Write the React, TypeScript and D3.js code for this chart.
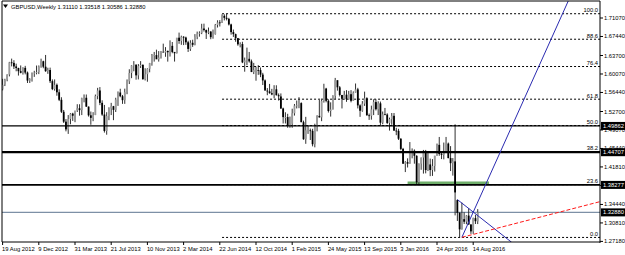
import React from "react";
import * as d3 from "d3";

// ---------- DATA ----------
const symbolTitle = "GBPUSD,Weekly";
const lastQuote = ["1.31110", "1.33518", "1.30586", "1.32880"];

// weekly candles [open, high, low, close], first week 19 Aug 2012, last week 28 Aug 2016
const ohlc: [number, number, number, number][] = [
  // 2012
  [1.5705, 1.5912, 1.5685, 1.5794], [1.5800, 1.5913, 1.5770, 1.5896], [1.5896, 1.6000, 1.5864, 1.5996],
  [1.5996, 1.6245, 1.5960, 1.6235], [1.6235, 1.6309, 1.6156, 1.6225], [1.6225, 1.6278, 1.6105, 1.6155],
  [1.6155, 1.6210, 1.6060, 1.6125], [1.6125, 1.6130, 1.5976, 1.6062], [1.6062, 1.6175, 1.6020, 1.6031],
  [1.6031, 1.6140, 1.5995, 1.6127], [1.6127, 1.6167, 1.6000, 1.6035], [1.6035, 1.6055, 1.5830, 1.5878],
  [1.5878, 1.5924, 1.5830, 1.5905], [1.5905, 1.6037, 1.5857, 1.6019], [1.6019, 1.6070, 1.5950, 1.6032],
  [1.6032, 1.6173, 1.6000, 1.6045], [1.6045, 1.6175, 1.6005, 1.6155], [1.6155, 1.6308, 1.6130, 1.6257],
  [1.6257, 1.6268, 1.6120, 1.6150], [1.6150, 1.6381, 1.6050, 1.6062],
  // 2013
  [1.6062, 1.6130, 1.6010, 1.6085], [1.6085, 1.6132, 1.5830, 1.5866], [1.5866, 1.5900, 1.5690, 1.5710],
  [1.5710, 1.5900, 1.5680, 1.5794], [1.5794, 1.5820, 1.5580, 1.5648], [1.5648, 1.5706, 1.5475, 1.5500],
  [1.5500, 1.5550, 1.5240, 1.5265], [1.5265, 1.5300, 1.5045, 1.5070], [1.5070, 1.5122, 1.4880, 1.4919],
  [1.4919, 1.5200, 1.4830, 1.5124], [1.5124, 1.5240, 1.5020, 1.5228], [1.5228, 1.5245, 1.5085, 1.5187],
  [1.5187, 1.5250, 1.5060, 1.5290], [1.5290, 1.5413, 1.5260, 1.5334], [1.5334, 1.5412, 1.5188, 1.5297],
  [1.5297, 1.5541, 1.5200, 1.5531], [1.5531, 1.5605, 1.5450, 1.5540], [1.5540, 1.5604, 1.5360, 1.5366],
  [1.5366, 1.5368, 1.5170, 1.5195], [1.5195, 1.5270, 1.5010, 1.5145], [1.5145, 1.5257, 1.5080, 1.5200],
  [1.5200, 1.5603, 1.5200, 1.5573], [1.5573, 1.5735, 1.5510, 1.5683], [1.5683, 1.5750, 1.5395, 1.5440],
  [1.5440, 1.5490, 1.5185, 1.5210], [1.5210, 1.5399, 1.4856, 1.4888], [1.4888, 1.5256, 1.4814, 1.5180],
  [1.5180, 1.5353, 1.5100, 1.5328], [1.5328, 1.5440, 1.5200, 1.5374], [1.5374, 1.5380, 1.5100, 1.5302],
  [1.5302, 1.5540, 1.5260, 1.5505], [1.5505, 1.5664, 1.5380, 1.5643], [1.5643, 1.5717, 1.5550, 1.5570],
  [1.5570, 1.5595, 1.5420, 1.5493], [1.5493, 1.5719, 1.5420, 1.5650], [1.5650, 1.5900, 1.5610, 1.5862],
  [1.5862, 1.6100, 1.5810, 1.6026], [1.6026, 1.6180, 1.5925, 1.6175], [1.6175, 1.6260, 1.6060, 1.6191],
  [1.6191, 1.6192, 1.5895, 1.5980], [1.5980, 1.6202, 1.5900, 1.6163], [1.6163, 1.6260, 1.6125, 1.6185],
  [1.6185, 1.6198, 1.5895, 1.5905], [1.5905, 1.6120, 1.5880, 1.6002], [1.6002, 1.6120, 1.5855, 1.6110],
  [1.6110, 1.6225, 1.6040, 1.6220], [1.6220, 1.6400, 1.6170, 1.6375], [1.6375, 1.6440, 1.6250, 1.6378],
  [1.6378, 1.6485, 1.6350, 1.6295], [1.6295, 1.6457, 1.6250, 1.6330], [1.6330, 1.6457, 1.6310, 1.6443],
  [1.6443, 1.6603, 1.6440, 1.6430],
  // 2014
  [1.6430, 1.6535, 1.6345, 1.6460], [1.6460, 1.6468, 1.6250, 1.6435], [1.6435, 1.6668, 1.6350, 1.6560],
  [1.6560, 1.6635, 1.6415, 1.6440], [1.6440, 1.6440, 1.6251, 1.6415], [1.6415, 1.6715, 1.6410, 1.6720],
  [1.6720, 1.6820, 1.6600, 1.6655], [1.6655, 1.6760, 1.6580, 1.6738], [1.6738, 1.6750, 1.6575, 1.6723],
  [1.6723, 1.6740, 1.6580, 1.6630], [1.6630, 1.6660, 1.6440, 1.6500], [1.6500, 1.6670, 1.6460, 1.6620],
  [1.6620, 1.6680, 1.6540, 1.6580], [1.6580, 1.6790, 1.6570, 1.6740], [1.6740, 1.6840, 1.6690, 1.6800],
  [1.6800, 1.6845, 1.6740, 1.6815], [1.6815, 1.6993, 1.6790, 1.6900], [1.6900, 1.6996, 1.6840, 1.6870],
  [1.6870, 1.6880, 1.6695, 1.6820], [1.6820, 1.6920, 1.6790, 1.6840], [1.6840, 1.6850, 1.6690, 1.6730],
  [1.6730, 1.6880, 1.6700, 1.6790], [1.6790, 1.6990, 1.6780, 1.6970], [1.6970, 1.7062, 1.6920, 1.7020],
  [1.7020, 1.7065, 1.6940, 1.7015], [1.7015, 1.7180, 1.7010, 1.7150], [1.7150, 1.7180, 1.7060, 1.7110],
  [1.7110, 1.7191, 1.7060, 1.7090], [1.7090, 1.7110, 1.6960, 1.6980], [1.6980, 1.6995, 1.6780, 1.6830],
  [1.6830, 1.6880, 1.6735, 1.6790], [1.6790, 1.6800, 1.6640, 1.6710], [1.6710, 1.6715, 1.6562, 1.6590],
  [1.6590, 1.6630, 1.6530, 1.6595], [1.6595, 1.6640, 1.6220, 1.6235], [1.6235, 1.6330, 1.6052, 1.6275],
  [1.6275, 1.6525, 1.6180, 1.6305], [1.6305, 1.6440, 1.6230, 1.6255], [1.6255, 1.6290, 1.6045, 1.6045],
  [1.6045, 1.6225, 1.6005, 1.6085], [1.6085, 1.6150, 1.5875, 1.6085], [1.6085, 1.6180, 1.5990, 1.6083],
  [1.6083, 1.6135, 1.5945, 1.5995], [1.5995, 1.6030, 1.5790, 1.5880], [1.5880, 1.5900, 1.5707, 1.5680],
  [1.5680, 1.5730, 1.5590, 1.5665], [1.5665, 1.5812, 1.5620, 1.5630], [1.5630, 1.5715, 1.5590, 1.5605],
  [1.5605, 1.5787, 1.5530, 1.5706], [1.5706, 1.5785, 1.5585, 1.5590], [1.5590, 1.5625, 1.5485, 1.5570],
  [1.5565, 1.5625, 1.5320, 1.5330],
  // 2015
  [1.5330, 1.5345, 1.5035, 1.5160], [1.5160, 1.5255, 1.5035, 1.5160], [1.5160, 1.5225, 1.4950, 1.4985],
  [1.4985, 1.5170, 1.4950, 1.5030], [1.5030, 1.5325, 1.4950, 1.5235], [1.5235, 1.5418, 1.5190, 1.5385],
  [1.5385, 1.5485, 1.5330, 1.5390], [1.5390, 1.5552, 1.5335, 1.5435], [1.5435, 1.5450, 1.5060, 1.5060],
  [1.5060, 1.5090, 1.4715, 1.4725], [1.4725, 1.5165, 1.4635, 1.4900], [1.4900, 1.4985, 1.4830, 1.4900],
  [1.4900, 1.4935, 1.4710, 1.4890], [1.4890, 1.4930, 1.4585, 1.4627], [1.4627, 1.5030, 1.4566, 1.4988],
  [1.4988, 1.5197, 1.4880, 1.5183], [1.5183, 1.5497, 1.5150, 1.5155], [1.5155, 1.5525, 1.5080, 1.5475],
  [1.5475, 1.5815, 1.5445, 1.5720], [1.5720, 1.5735, 1.5450, 1.5480], [1.5480, 1.5510, 1.5250, 1.5280],
  [1.5280, 1.5450, 1.5170, 1.5310], [1.5310, 1.5590, 1.5310, 1.5575], [1.5575, 1.5930, 1.5515, 1.5885],
  [1.5885, 1.5880, 1.5680, 1.5745], [1.5745, 1.5770, 1.5565, 1.5595], [1.5595, 1.5595, 1.5330, 1.5520],
  [1.5520, 1.5675, 1.5500, 1.5600], [1.5600, 1.5690, 1.5460, 1.5510], [1.5510, 1.5675, 1.5500, 1.5610],
  [1.5610, 1.5690, 1.5450, 1.5480], [1.5480, 1.5665, 1.5480, 1.5640], [1.5640, 1.5820, 1.5640, 1.5705],
  [1.5705, 1.5735, 1.5330, 1.5390], [1.5390, 1.5410, 1.5165, 1.5285], [1.5285, 1.5475, 1.5265, 1.5425],
  [1.5425, 1.5660, 1.5380, 1.5530], [1.5530, 1.5550, 1.5190, 1.5195], [1.5195, 1.5230, 1.5105, 1.5185],
  [1.5185, 1.5385, 1.5110, 1.5310], [1.5310, 1.5510, 1.5200, 1.5455], [1.5455, 1.5510, 1.5290, 1.5315],
  [1.5315, 1.5470, 1.5200, 1.5430], [1.5430, 1.5465, 1.4995, 1.5050], [1.5050, 1.5270, 1.5020, 1.5215],
  [1.5215, 1.5340, 1.5200, 1.5210], [1.5210, 1.5235, 1.5025, 1.5045], [1.5045, 1.5150, 1.4895, 1.5120],
  [1.5120, 1.5240, 1.5010, 1.5185], [1.5185, 1.5240, 1.4890, 1.4895], [1.4895, 1.4950, 1.4805, 1.4890],
  [1.4890, 1.4930, 1.4710, 1.4735],
  // 2016
  [1.4735, 1.4745, 1.4510, 1.4535], [1.4535, 1.4555, 1.4240, 1.4245], [1.4245, 1.4295, 1.4080, 1.4275],
  [1.4275, 1.4350, 1.4170, 1.4245], [1.4245, 1.4670, 1.4245, 1.4500], [1.4500, 1.4545, 1.4350, 1.4500],
  [1.4500, 1.4525, 1.4245, 1.4400], [1.4400, 1.4410, 1.3835, 1.3880], [1.3880, 1.4250, 1.3835, 1.4245],
  [1.4245, 1.4365, 1.4125, 1.4365], [1.4365, 1.4515, 1.4050, 1.4480], [1.4480, 1.4515, 1.4055, 1.4120],
  [1.4120, 1.4455, 1.4100, 1.4230], [1.4230, 1.4345, 1.4000, 1.4120], [1.4120, 1.4335, 1.4005, 1.4200],
  [1.4200, 1.4395, 1.4090, 1.4405], [1.4405, 1.4640, 1.4400, 1.4615], [1.4615, 1.4770, 1.4400, 1.4435],
  [1.4435, 1.4475, 1.4335, 1.4420], [1.4420, 1.4660, 1.4330, 1.4495], [1.4495, 1.4770, 1.4465, 1.4640],
  [1.4640, 1.4660, 1.4350, 1.4355], [1.4355, 1.4590, 1.4100, 1.4255], [1.4255, 1.4355, 1.4010, 1.4290],
  [1.4290, 1.5018, 1.3229, 1.3680], [1.3530, 1.3540, 1.3120, 1.3280], [1.3280, 1.3290, 1.2798, 1.2955],
  [1.2955, 1.3480, 1.2950, 1.3155], [1.3155, 1.3290, 1.3060, 1.3105], [1.3105, 1.3235, 1.3055, 1.3225],
  [1.3225, 1.3370, 1.3045, 1.3050], [1.3050, 1.3055, 1.2865, 1.2915], [1.2915, 1.3185, 1.2865, 1.3175],
  [1.3175, 1.3240, 1.3060, 1.3115], [1.31110, 1.33518, 1.30586, 1.32880],
];

const timeTickLabels = [
  "19 Aug 2012", "9 Dec 2012", "31 Mar 2013", "21 Jul 2013", "10 Nov 2013", "2 Mar 2014", "22 Jun 2014",
  "12 Oct 2014", "1 Feb 2015", "24 May 2015", "13 Sep 2015", "3 Jan 2016", "24 Apr 2016", "14 Aug 2016",
];
const timeTickStep = 16;

const priceTicks = [1.7107, 1.6744, 1.637, 1.6007, 1.5644, 1.527, 1.4907, 1.4544, 1.4181, 1.3818, 1.3444, 1.3081, 1.2718];

const fibHigh = 1.7191;
const fibLow = 1.2796;
const fibLevels = [0, 23.6, 38.2, 50, 61.8, 76.4, 88.6, 100];
const fibStartBar = 97;

const levelLines = [1.49862, 1.44707, 1.38277];
const bidPrice = 1.3288;

const zoneBars = [179, 215];
const zonePrices = [1.3833, 1.3895];

const trendUp: [number, number][] = [[203, 1.2798], [250, 1.744]];
const trendDown: [number, number][] = [[201, 1.354], [225, 1.27]];
const trendRed: [number, number][] = [[203, 1.2798], [265, 1.351]];

// ---------- LAYOUT ----------
const W = 625;
const H = 255;
const left = 2;
const right = 600;
const top = 1;
const bottom = 242;
const font = "'Liberation Sans', Arial, sans-serif";
const fs = 5.8;

export default function App() {
  const x = d3.scaleLinear().domain([0, 208]).range([2.6, 473.2]);
  const y = d3.scaleLinear().domain([1.2718, 1.7107]).range([241.4, 18]);
  const line = d3.line<[number, number]>().x((d) => x(d[0])).y((d) => y(d[1]));
  const levelWidths = [1.3, 2.2, 1.6];

  return (
    <svg width={W} height={H} style={{ position: "absolute", left: 0, top: 0, background: "#fff" }}
      fontFamily={font}>
      <defs>
        <clipPath id="plot">
          <rect x={left} y={top} width={right - left} height={bottom - top} />
        </clipPath>
      </defs>
      <rect x={0} y={0} width={W} height={H} fill="#fff" />

      <g clipPath="url(#plot)">
        {/* green zone */}
        <rect x={x(zoneBars[0])} y={y(zonePrices[1])} width={x(zoneBars[1]) - x(zoneBars[0])}
          height={y(zonePrices[0]) - y(zonePrices[1])} fill="#6fae6a" />

        {/* fib dotted levels */}
        {fibLevels.map((lv) => {
          const p = fibLow + (fibHigh - fibLow) * lv / 100;
          return <line key={lv} x1={x(fibStartBar)} x2={right} y1={y(p)} y2={y(p)} stroke="#000"
            strokeWidth={1} strokeDasharray="2,2" />;
        })}

        {/* bid line */}
        <line x1={left} x2={right} y1={y(bidPrice)} y2={y(bidPrice)} stroke="#7d90a6" strokeWidth={1.2} />

        {/* candles */}
        {ohlc.map(([o, h, l, c], i) => {
          const cx = x(i);
          const up = c >= o;
          const yt = y(Math.max(o, c));
          const yb = y(Math.min(o, c));
          return (
            <g key={i}>
              <line x1={cx} x2={cx} y1={y(h)} y2={y(l)} stroke="#1a1a1a" strokeWidth={0.9} />
              <rect x={cx - 0.9} y={yt} width={1.8} height={Math.max(0.8, yb - yt)}
                fill={up ? "#9a9a9a" : "#000"} />
            </g>
          );
        })}

        {/* horizontal level lines */}
        {levelLines.map((p, k) => (
          <line key={p} x1={left} x2={right} y1={y(p)} y2={y(p)} stroke="#000" strokeWidth={levelWidths[k]} />
        ))}

        {/* trend lines */}
        <path d={line(trendUp) || ""} stroke="#2b2bb0" strokeWidth={1} fill="none" />
        <path d={line(trendDown) || ""} stroke="#2b2bb0" strokeWidth={1} fill="none" />
        <path d={line(trendRed) || ""} stroke="#ff1a1a" strokeWidth={1} fill="none" strokeDasharray="4,2" />
      </g>

      {/* fib labels */}
      {fibLevels.map((lv) => {
        const p = fibLow + (fibHigh - fibLow) * lv / 100;
        return <text key={lv} x={598} y={y(p) - 1.6} fontSize={fs} textAnchor="end" fill="#000">
          {lv.toFixed(1)}
        </text>;
      })}

      {/* frame */}
      <line x1={left} x2={left} y1={top} y2={bottom} stroke="#000" strokeWidth={1} />
      <line x1={left} x2={right} y1={top} y2={top} stroke="#000" strokeWidth={1} />
      <line x1={right} x2={right} y1={top} y2={bottom + 1} stroke="#000" strokeWidth={1} />
      <line x1={left} x2={right} y1={bottom} y2={bottom} stroke="#000" strokeWidth={1} />

      {/* price axis */}
      {priceTicks.map((p) => (
        <g key={p}>
          <line x1={right} x2={right + 3} y1={y(p)} y2={y(p)} stroke="#000" strokeWidth={1} />
          <text x={right + 4} y={y(p) + 2} fontSize={fs} fill="#000">{p.toFixed(5)}</text>
        </g>
      ))}
      {[...levelLines, bidPrice].map((p) => (
        <g key={"b" + p}>
          <rect x={right + 1} y={y(p) - 4} width={W - right - 1} height={8} fill="#000" />
          <text x={right + 3} y={y(p) + 2} fontSize={fs} fill="#fff">{p.toFixed(5)}</text>
        </g>
      ))}

      {/* time axis */}
      {timeTickLabels.map((lab, k) => {
        const tx = x(k * timeTickStep);
        return (
          <g key={lab}>
            <line x1={tx} x2={tx} y1={bottom} y2={bottom + 3} stroke="#000" strokeWidth={1} />
            <text x={tx - 0.5} y={250.5} fontSize={fs} fill="#000">{lab}</text>
          </g>
        );
      })}

      {/* header */}
      <path d="M3,4.5 L8,4.5 L5.5,8 Z" fill="#000" />
      <text x={11} y={9} fontSize={fs} fill="#000">
        {symbolTitle + "  " + lastQuote.join(" ")}
      </text>
    </svg>
  );
}
